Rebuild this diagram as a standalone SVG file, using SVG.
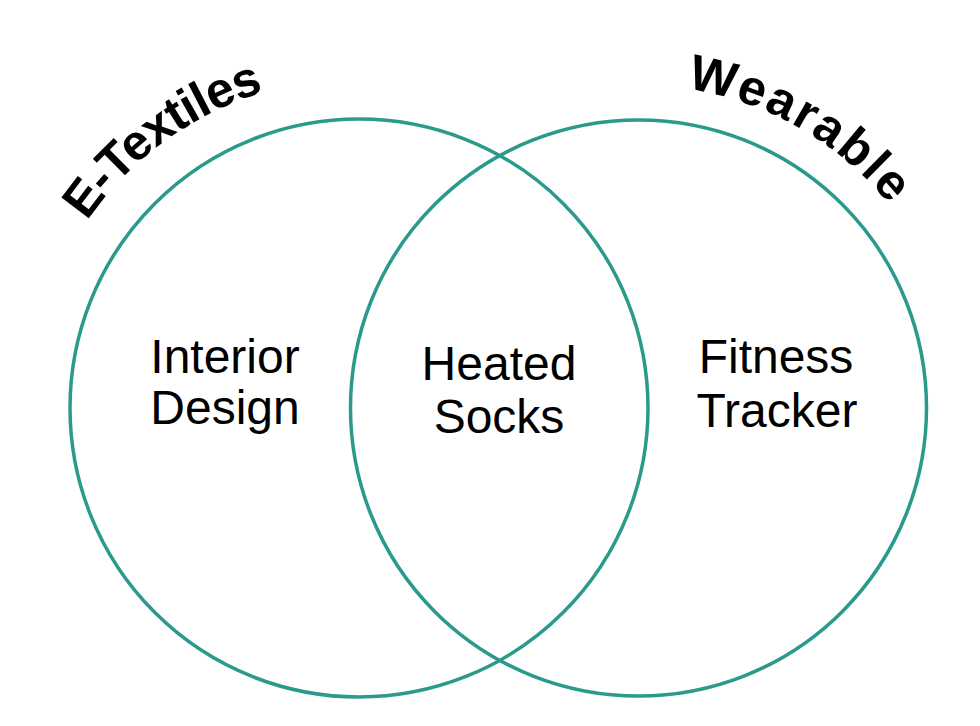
<svg xmlns="http://www.w3.org/2000/svg" width="980" height="726" viewBox="0 0 980 726">
<style>
.ring{fill:none;stroke:#2a9a8c;stroke-width:3.5}
.lbl{font-family:"Liberation Sans",Arial,sans-serif;font-size:48px;fill:#000;text-anchor:middle}
.ttl{font-family:"Liberation Sans",Arial,sans-serif;font-size:50px;font-weight:bold;fill:#000;text-anchor:middle}
</style>
<defs>
<path id="arcL" d="M30.3,436.8 A330,330 0 0 1 498.5,108.9"/>
<path id="arcR" d="M477,128.3 A323,323 0 0 1 961.5,408"/>
</defs>
<rect width="980" height="726" fill="#fff"/>
<g id="set-etextiles">
<circle class="ring" cx="359" cy="408" r="289"/>
<text class="ttl" style="letter-spacing:-1px"><textPath href="#arcL" startOffset="49%">E-Textiles</textPath></text>
</g>
<g id="set-wearable">
<circle class="ring" cx="638.5" cy="408" r="288"/>
<text class="ttl" style="letter-spacing:2.5px"><textPath href="#arcR" startOffset="50%">Wearable</textPath></text>
</g>
<g id="region-left">
<text class="lbl" x="225" y="373">Interior</text>
<text class="lbl" x="225" y="424">Design</text>
</g>
<g id="region-middle">
<text class="lbl" x="499" y="380">Heated</text>
<text class="lbl" x="499" y="433">Socks</text>
</g>
<g id="region-right">
<text class="lbl" x="776" y="373">Fitness</text>
<text class="lbl" x="777" y="427">Tracker</text>
</g>
<g id="connectors"></g>
</svg>
